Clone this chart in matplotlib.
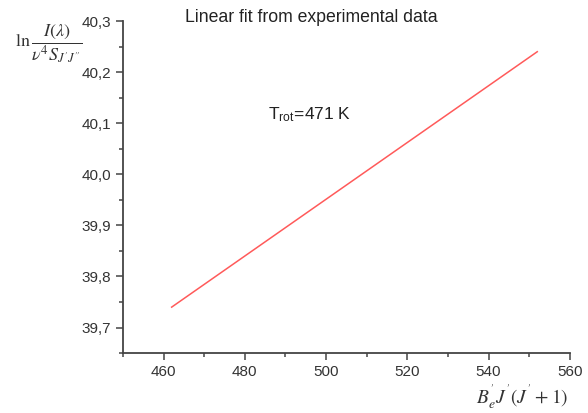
import numpy as np
import matplotlib.pyplot as plt
from matplotlib.ticker import MultipleLocator, FuncFormatter

# fitted line end points
x_fit = [462, 552]
y_fit = [39.74, 40.24]
t_rot = 471

plt.rcParams['mathtext.fontset'] = 'stix'
plt.rcParams['font.family'] = ['Liberation Sans', 'DejaVu Sans']
fig = plt.figure(figsize=(5.88, 4.13), dpi=100)
ax = fig.add_axes([0.209, 0.145, 0.760, 0.804])
ax.plot(x_fit, y_fit, color='#ff5a5a', lw=1.1)

ax.set_xlim(450, 560)
ax.set_ylim(39.65, 40.3)
ax.xaxis.set_major_locator(MultipleLocator(20))
ax.xaxis.set_minor_locator(MultipleLocator(10))
ax.yaxis.set_major_locator(MultipleLocator(0.1))
ax.yaxis.set_minor_locator(MultipleLocator(0.05))
ax.yaxis.set_major_formatter(FuncFormatter(lambda v, p: ('%.1f' % v).replace('.', ',')))
for s in ['top', 'right']:
    ax.spines[s].set_visible(False)
for s in ['left', 'bottom']:
    ax.spines[s].set_color('#444444')
    ax.spines[s].set_linewidth(1.3)
ax.tick_params(which='major', direction='out', length=5, width=1.1, colors='#444444', labelsize=11, labelcolor='#333333')
ax.tick_params(which='minor', direction='out', length=3, width=1.1, colors='#444444')

fig.text(0.529, 0.958, 'Linear fit from experimental data',
         ha='center', va='center', fontsize=12.7, color='#222222')
ax.text(496, 40.116, r'T$_{\mathregular{rot}}$=%d K' % t_rot, ha='center', va='center', fontsize=12.5, color='#222222')

fig.text(0.025, 0.895, r'$\ln\dfrac{I(\lambda)}{\nu^4 S_{J^{\prime}J^{\prime\prime}}}$', fontsize=13, ha='left', va='center', color='#333333')
fig.text(0.888, 0.038, r"$B_e^{'}J^{'}(J^{'}+1)$", fontsize=14, ha='center', va='center', color='#333333')

fig.savefig('out.png', dpi=100)
